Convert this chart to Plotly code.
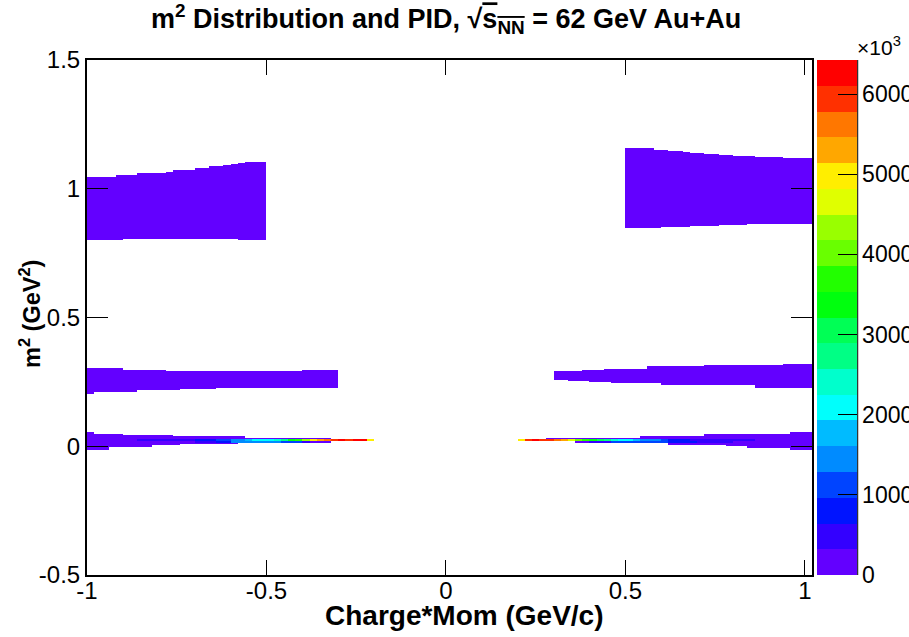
import numpy as np
import plotly.graph_objects as go

# ---------------- histogram binning ----------------
X_MIN, X_MAX, X_BIN = -1.0, 1.02, 0.02
Y_MIN, Y_MAX, Y_BIN = -0.5, 1.5, 0.004
Z_MAX = 6425.0           # colour-axis maximum, in units of 10^3 counts

# ROOT "pretty" palette, 20 contour colours (low -> high)
palette = [
    "rgb(99,0,255)", "rgb(51,0,255)", "rgb(0,20,255)", "rgb(0,68,255)", "rgb(0,139,255)",
    "rgb(0,187,255)", "rgb(0,255,252)", "rgb(0,255,204)", "rgb(0,255,133)", "rgb(0,255,85)",
    "rgb(0,255,14)", "rgb(34,255,0)", "rgb(105,255,0)", "rgb(153,255,0)", "rgb(224,255,0)",
    "rgb(255,238,0)", "rgb(255,167,0)", "rgb(255,119,0)", "rgb(255,48,0)", "rgb(255,0,0)"]

cbar_tickvals = [0, 1000, 2000, 3000, 4000, 5000, 6000]
cbar_ticktext = ["0", "1000", "2000", "3000", "4000", "5000", "6000"]
x_tickvals = [-1, -0.5, 0, 0.5, 1]
x_ticktext = ["-1", "-0.5", "0", "0.5", "1"]
y_tickvals = [-0.5, 0, 0.5, 1, 1.5]
y_ticktext = ["-0.5", "0", "0.5", "1", "1.5"]

LOW_COUNT = 120.0  # x10^3, populated but sparse bins (lowest colour band)

# ---------------- proton bands (m^2 ~ 0.88) ----------------
proton_neg_range = [-1.00, -0.50]
proton_neg_top_x = [-1.00, -0.92, -0.86, -0.78, -0.76, -0.70, -0.66, -0.62, -0.60, -0.58, -0.56]
proton_neg_top = [1.045, 1.052, 1.060, 1.064, 1.072, 1.080, 1.087, 1.091, 1.095, 1.099, 1.103]
proton_neg_bot_x = [-1.00, -0.90, -0.58]
proton_neg_bot = [0.799, 0.803, 0.799]

proton_pos_range = [0.50, 1.02]
proton_pos_top_x = [0.50, 0.58, 0.62, 0.66, 0.68, 0.72, 0.76, 0.80, 0.86, 0.94]
proton_pos_top = [1.161, 1.153, 1.150, 1.146, 1.142, 1.138, 1.134, 1.130, 1.126, 1.122]
proton_pos_bot_x = [0.50, 0.60, 0.68, 0.76, 0.84]
proton_pos_bot = [0.848, 0.852, 0.856, 0.859, 0.863]

# ---------------- kaon bands (m^2 ~ 0.25) ----------------
kaon_neg_range = [-1.00, -0.30]
kaon_neg_top_x = [-1.00, -0.90, -0.78, -0.40]
kaon_neg_top = [0.303, 0.295, 0.291, 0.295]
kaon_neg_bot_x = [-1.00, -0.98, -0.86, -0.74, -0.64]
kaon_neg_bot = [0.203, 0.211, 0.219, 0.226, 0.230]

kaon_pos_range = [0.30, 1.02]
kaon_pos_top_x = [0.30, 0.38, 0.44, 0.56, 0.72, 0.84, 0.94]
kaon_pos_top = [0.291, 0.295, 0.302, 0.311, 0.315, 0.318, 0.322]
kaon_pos_bot_x = [0.30, 0.34, 0.40, 0.46, 0.60, 0.86]
kaon_pos_bot = [0.258, 0.254, 0.250, 0.246, 0.238, 0.230]

# ---------------- pion bands (m^2 ~ 0.02): sparse envelope ----------------
pion_neg_range = [-1.00, -0.32]
pion_neg_top_x = [-1.00, -0.98, -0.90, -0.76, -0.56]
pion_neg_top = [0.058, 0.049, 0.045, 0.039, 0.033]
pion_neg_bot_x = [-1.00, -0.94, -0.82, -0.74, -0.58]
pion_neg_bot = [-0.014, -0.005, 0.003, 0.008, 0.0125]

pion_pos_range = [0.28, 1.02]
pion_pos_top_x = [0.28, 0.54, 0.72, 0.88, 0.96]
pion_pos_top = [0.033, 0.039, 0.047, 0.050, 0.058]
pion_pos_bot_x = [0.28, 0.36, 0.62, 0.78, 0.84, 0.96]
pion_pos_bot = [0.021, 0.0125, 0.005, 0.001, -0.007, -0.014]

# pion core: upper row (m^2 0.020-0.028) and lower row (0.012-0.020), counts x10^3
core_upper_m2 = [0.020, 0.028]
core_lower_m2 = [0.012, 0.020]

core_neg_up_x = [-0.86, -0.70, -0.64, -0.60, -0.56, -0.54, -0.48, -0.46, -0.44, -0.42,
                 -0.40, -0.38, -0.36, -0.34, -0.32, -0.30, -0.28, -0.26, -0.22]
core_neg_up = [480, 800, 1125, 1445, 1765, 2090, 2410, 2730, 3375, 3695,
               4335, 4980, 5300, 5620, 5940, 6265, 5940, 6265, 4980]
core_neg_up_end = -0.20
core_neg_lo_x = [-0.86, -0.70, -0.64, -0.60, -0.46, -0.40]
core_neg_lo = [160, 480, 800, 1445, 1125, 480]
core_neg_lo_end = -0.38

core_pos_up_x = [0.20, 0.22, 0.24, 0.26, 0.30, 0.32, 0.34, 0.36, 0.38, 0.40,
                 0.42, 0.44, 0.46, 0.48, 0.52, 0.54, 0.60, 0.62, 0.68, 0.86]
core_pos_up = [4980, 5940, 6265, 5940, 5620, 5300, 4660, 4015, 3695, 3375,
               3050, 2730, 2410, 2090, 1765, 1445, 1125, 800, 480, 160]
core_pos_up_end = 1.02
core_pos_lo_x = [0.36, 0.40, 0.46, 0.62, 0.70, 0.80]
core_pos_lo = [160, 480, 1125, 800, 480, 160]
core_pos_lo_end = 1.02

# ---------------- build the 2D histogram ----------------
xc = np.arange(X_MIN + X_BIN / 2, X_MAX - 1e-9, X_BIN)
yc = np.arange(Y_MIN + Y_BIN / 2, Y_MAX - 1e-9, Y_BIN)
Z = np.full((len(yc), len(xc)), np.nan)


def step(xs, vals, x):
    i = int(np.searchsorted(np.asarray(xs), x, side="right")) - 1
    return vals[max(i, 0)]


def fill_band(rng, top_x, top, bot_x, bot, value):
    for j, x in enumerate(xc):
        if rng[0] < x < rng[1]:
            hi = step(top_x, top, x)
            lo = step(bot_x, bot, x)
            Z[(yc > lo) & (yc < hi), j] = value


def fill_row(row_x, row_vals, x_end, m2):
    for j, x in enumerate(xc):
        if row_x[0] < x < x_end:
            Z[(yc > m2[0]) & (yc < m2[1]), j] = step(row_x, row_vals, x)


fill_band(proton_neg_range, proton_neg_top_x, proton_neg_top, proton_neg_bot_x, proton_neg_bot, LOW_COUNT)
fill_band(proton_pos_range, proton_pos_top_x, proton_pos_top, proton_pos_bot_x, proton_pos_bot, LOW_COUNT)
fill_band(kaon_neg_range, kaon_neg_top_x, kaon_neg_top, kaon_neg_bot_x, kaon_neg_bot, LOW_COUNT)
fill_band(kaon_pos_range, kaon_pos_top_x, kaon_pos_top, kaon_pos_bot_x, kaon_pos_bot, LOW_COUNT)
fill_band(pion_neg_range, pion_neg_top_x, pion_neg_top, pion_neg_bot_x, pion_neg_bot, LOW_COUNT)
fill_band(pion_pos_range, pion_pos_top_x, pion_pos_top, pion_pos_bot_x, pion_pos_bot, LOW_COUNT)
fill_row(core_neg_up_x, core_neg_up, core_neg_up_end, core_upper_m2)
fill_row(core_neg_lo_x, core_neg_lo, core_neg_lo_end, core_lower_m2)
fill_row(core_pos_up_x, core_pos_up, core_pos_up_end, core_upper_m2)
fill_row(core_pos_lo_x, core_pos_lo, core_pos_lo_end, core_lower_m2)

# discrete colour scale (20 contour levels)
n = len(palette)
colorscale = []
for i, c in enumerate(palette):
    colorscale.append([i / n, c])
    colorscale.append([(i + 1) / n, c])

FONT = "Liberation Sans, Arial, Helvetica, sans-serif"
# page body margin is removed by post_script, so figure coords = page coords
PL, PT, PR, PB = 87, 60, 812, 575
FIG_W, FIG_H = 909, 637
PW = float(PR - PL)
PH = float(PB - PT)


def px_x(page_x):
    return (page_x - PL) / PW


def px_y(page_y):
    return (PB - page_y) / PH


fig = go.Figure()
fig.add_trace(go.Heatmap(
    x=xc, y=yc, z=Z, zmin=0, zmax=Z_MAX, colorscale=colorscale,
    zsmooth=False, hoverongaps=False,
    colorbar=dict(
        thickness=40, thicknessmode="pixels", len=PH, lenmode="pixels",
        x=px_x(817), xanchor="left", xpad=0, y=0.5, yanchor="middle", ypad=0,
        outlinewidth=0, ticks="inside", ticklen=19, tickwidth=1, tickcolor="black",
        tickvals=cbar_tickvals, ticktext=cbar_ticktext,
        tickfont=dict(family=FONT, size=23, color="black"),
    ),
))

fig.update_layout(
    width=FIG_W, height=FIG_H,
    margin=dict(l=PL, r=FIG_W - PR, t=PT, b=FIG_H - PB, autoexpand=False),
    paper_bgcolor="white", plot_bgcolor="white",
    showlegend=False,
    xaxis=dict(range=[X_MIN, X_MAX], tickvals=x_tickvals, ticktext=x_ticktext,
               ticks="inside", ticklen=15, tickwidth=1, tickcolor="black",
               showline=True, mirror="ticks", linecolor="black", linewidth=2,
               showgrid=False, zeroline=False, automargin=False,
               ticklabelstandoff=-7,
               tickfont=dict(family=FONT, size=24, color="black")),
    yaxis=dict(range=[Y_MIN, Y_MAX], tickvals=y_tickvals, ticktext=y_ticktext,
               ticks="inside", ticklen=21, tickwidth=1, tickcolor="black",
               showline=True, mirror="ticks", linecolor="black", linewidth=2,
               showgrid=False, zeroline=False, automargin=False,
               tickfont=dict(family=FONT, size=24, color="black")),
    annotations=[
        dict(text="<b>m<sup>2</sup> Distribution and PID, √<span style='text-decoration:overline'>s<sub>NN</sub></span> = 62 GeV Au+Au</b>",
             xref="paper", yref="paper", x=px_x(446), y=px_y(19),
             xanchor="center", yanchor="middle", showarrow=False,
             font=dict(family=FONT, size=27, color="black")),
        dict(text="<b>Charge*Mom (GeV/c)</b>",
             xref="paper", yref="paper", x=px_x(464), y=px_y(615),
             xanchor="center", yanchor="middle", showarrow=False,
             font=dict(family=FONT, size=28, color="black")),
        dict(text="<b>m<sup>2</sup> (GeV<sup>2</sup>)</b>", textangle=-90,
             xref="paper", yref="paper", x=px_x(30), y=px_y(314),
             xanchor="center", yanchor="middle", showarrow=False,
             font=dict(family=FONT, size=23.5, color="black")),
        dict(text="×10<sup>3</sup>",
             xref="paper", yref="paper", x=px_x(855), y=px_y(46),
             xanchor="left", yanchor="middle", showarrow=False,
             font=dict(family=FONT, size=21, color="black")),
    ],
    shapes=[
        dict(type="line", xref="paper", yref="paper",
             x0=px_x(857.5), x1=px_x(857.5), y0=0, y1=1,
             line=dict(color="#333333", width=1.5)),
    ],
)

fig.write_html("out.html", config={"displayModeBar": False},
               post_script="document.body.style.margin='0';")
